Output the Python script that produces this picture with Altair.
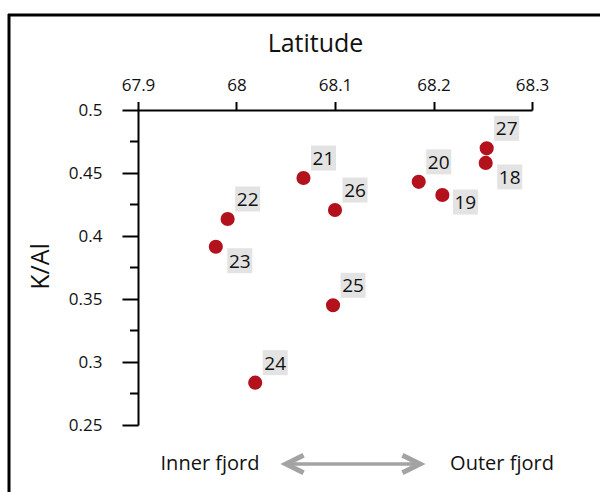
import altair as alt
import pandas as pd

# ---- data ----
station = [18, 19, 20, 21, 22, 23, 24, 25, 26, 27]
latitude = [68.253, 68.209, 68.185, 68.068, 67.991, 67.979, 68.019, 68.098, 68.100, 68.254]
k_al = [0.458, 0.4325, 0.443, 0.446, 0.4135, 0.3915, 0.2836, 0.345, 0.4206, 0.4696]
label_side = ["below", "right", "above", "above", "above", "below", "above", "above", "above", "above"]

x_ticks = [67.9, 68.0, 68.1, 68.2, 68.3]
y_ticks = [0.25, 0.3, 0.35, 0.4, 0.45, 0.5]
y_minor = [0.275, 0.325, 0.375, 0.425, 0.475]

df = pd.DataFrame({"station": station, "lat": latitude, "kal": k_al, "side": label_side})
df_minor = pd.DataFrame({"kal": y_minor})
one = pd.DataFrame({"k": [0]})

FONT = "Open Sans"
RED = "#b3111b"
BOX = "#e3e3e3"
GREY = "#a3a3a3"
INK = "#111111"

W, H = 394, 315
PAD_L, PAD_T = 138, 110

xscale = alt.Scale(domain=[67.9, 68.3], nice=False, zero=False)
yscale = alt.Scale(domain=[0.25, 0.5], nice=False, zero=False)

xaxis = alt.Axis(
    orient="top", values=x_ticks, format="~g", grid=False,
    title="Latitude", titleFontSize=25, titleFont=FONT, titleFontWeight="normal",
    titleColor=INK, titleX=177, titleY=-67, titleBaseline="middle", titleAlign="center",
    labelFont=FONT, labelFontSize=17, labelColor=INK, labelPadding=7,
    tickSize=8.5, tickWidth=2, tickColor="black", domainColor="black", domainWidth=2,
    labelFlush=False, labelOverlap=False,
)
yaxis = alt.Axis(
    orient="left", values=y_ticks, format="~g", grid=False,
    title="K/Al", titleFontSize=25, titleFont=FONT, titleFontWeight="normal",
    titleColor=INK, titleAngle=270, titleX=-98, titleY=156,
    titleBaseline="middle", titleAlign="center",
    labelFont=FONT, labelFontSize=17, labelColor=INK, labelPadding=20,
    tickSize=16, tickWidth=2, tickColor="black", domainColor="black", domainWidth=2,
    labelFlush=False, labelOverlap=False,
)

base = alt.Chart(df)

points = base.mark_circle(size=200, color=RED, opacity=1).encode(
    x=alt.X("lat:Q", scale=xscale, axis=xaxis),
    y=alt.Y("kal:Q", scale=yscale, axis=yaxis),
)

offsets = {"above": (20, -20), "below": (24, 14), "right": (23, 7)}
label_layers = []
for side, (dx, dy) in offsets.items():
    sub = base.transform_filter(alt.datum.side == side)
    label_layers.append(
        sub.mark_square(size=625, color=BOX, opacity=1, xOffset=dx, yOffset=dy).encode(
            x="lat:Q", y="kal:Q"
        )
    )
    label_layers.append(
        sub.mark_text(font=FONT, fontSize=19, color=INK, dx=dx, dy=dy + 1,
                      align="center", baseline="middle").encode(
            x="lat:Q", y="kal:Q", text="station:N"
        )
    )

minor = alt.Chart(df_minor).mark_rule(color="black", strokeWidth=2).encode(
    y="kal:Q", x=alt.value(-8), x2=alt.value(0)
)

# annotation at the bottom
ann_y = 354
inner = alt.Chart(one).mark_text(text="Inner fjord", font=FONT, fontSize=20, color=INK,
                                 align="center", baseline="middle").encode(
    x=alt.value(72), y=alt.value(ann_y)
)
outer = alt.Chart(one).mark_text(text="Outer fjord", font=FONT, fontSize=20, color=INK,
                                 align="center", baseline="middle").encode(
    x=alt.value(364), y=alt.value(ann_y)
)
shaft = alt.Chart(one).mark_rule(color=GREY, strokeWidth=3.5).encode(
    x=alt.value(149), x2=alt.value(281), y=alt.value(ann_y)
)
head_r = alt.Chart(one).mark_point(
    shape="M-1.6,-0.8L0,0L-1.6,0.8", size=484, filled=False, color=GREY,
    strokeWidth=5, opacity=1, strokeJoin="miter"
).encode(x=alt.value(282), y=alt.value(ann_y))
head_l = alt.Chart(one).mark_point(
    shape="M1.6,-0.8L0,0L1.6,0.8", size=484, filled=False, color=GREY,
    strokeWidth=5, opacity=1, strokeJoin="miter"
).encode(x=alt.value(148), y=alt.value(ann_y))

# outer frame (top and left edges)
frame_top = alt.Chart(one).mark_rule(color="black", strokeWidth=3).encode(
    x=alt.value(8 - PAD_L), x2=alt.value(600), y=alt.value(15 - PAD_T)
)
frame_left = alt.Chart(one).mark_rule(color="black", strokeWidth=3).encode(
    x=alt.value(9 - PAD_L), y=alt.value(14 - PAD_T), y2=alt.value(520)
)

chart = alt.layer(
    minor, *label_layers, points, shaft, head_l, head_r, inner, outer, frame_top, frame_left
).properties(
    width=W, height=H,
    autosize=alt.AutoSizeParams(type="none"),
    padding={"left": PAD_L, "top": PAD_T, "right": 600 - PAD_L - W, "bottom": 492 - PAD_T - H},
    background="white",
).configure_view(stroke=None)

chart.save("out.html", embed_options={"renderer": "svg", "actions": False})
